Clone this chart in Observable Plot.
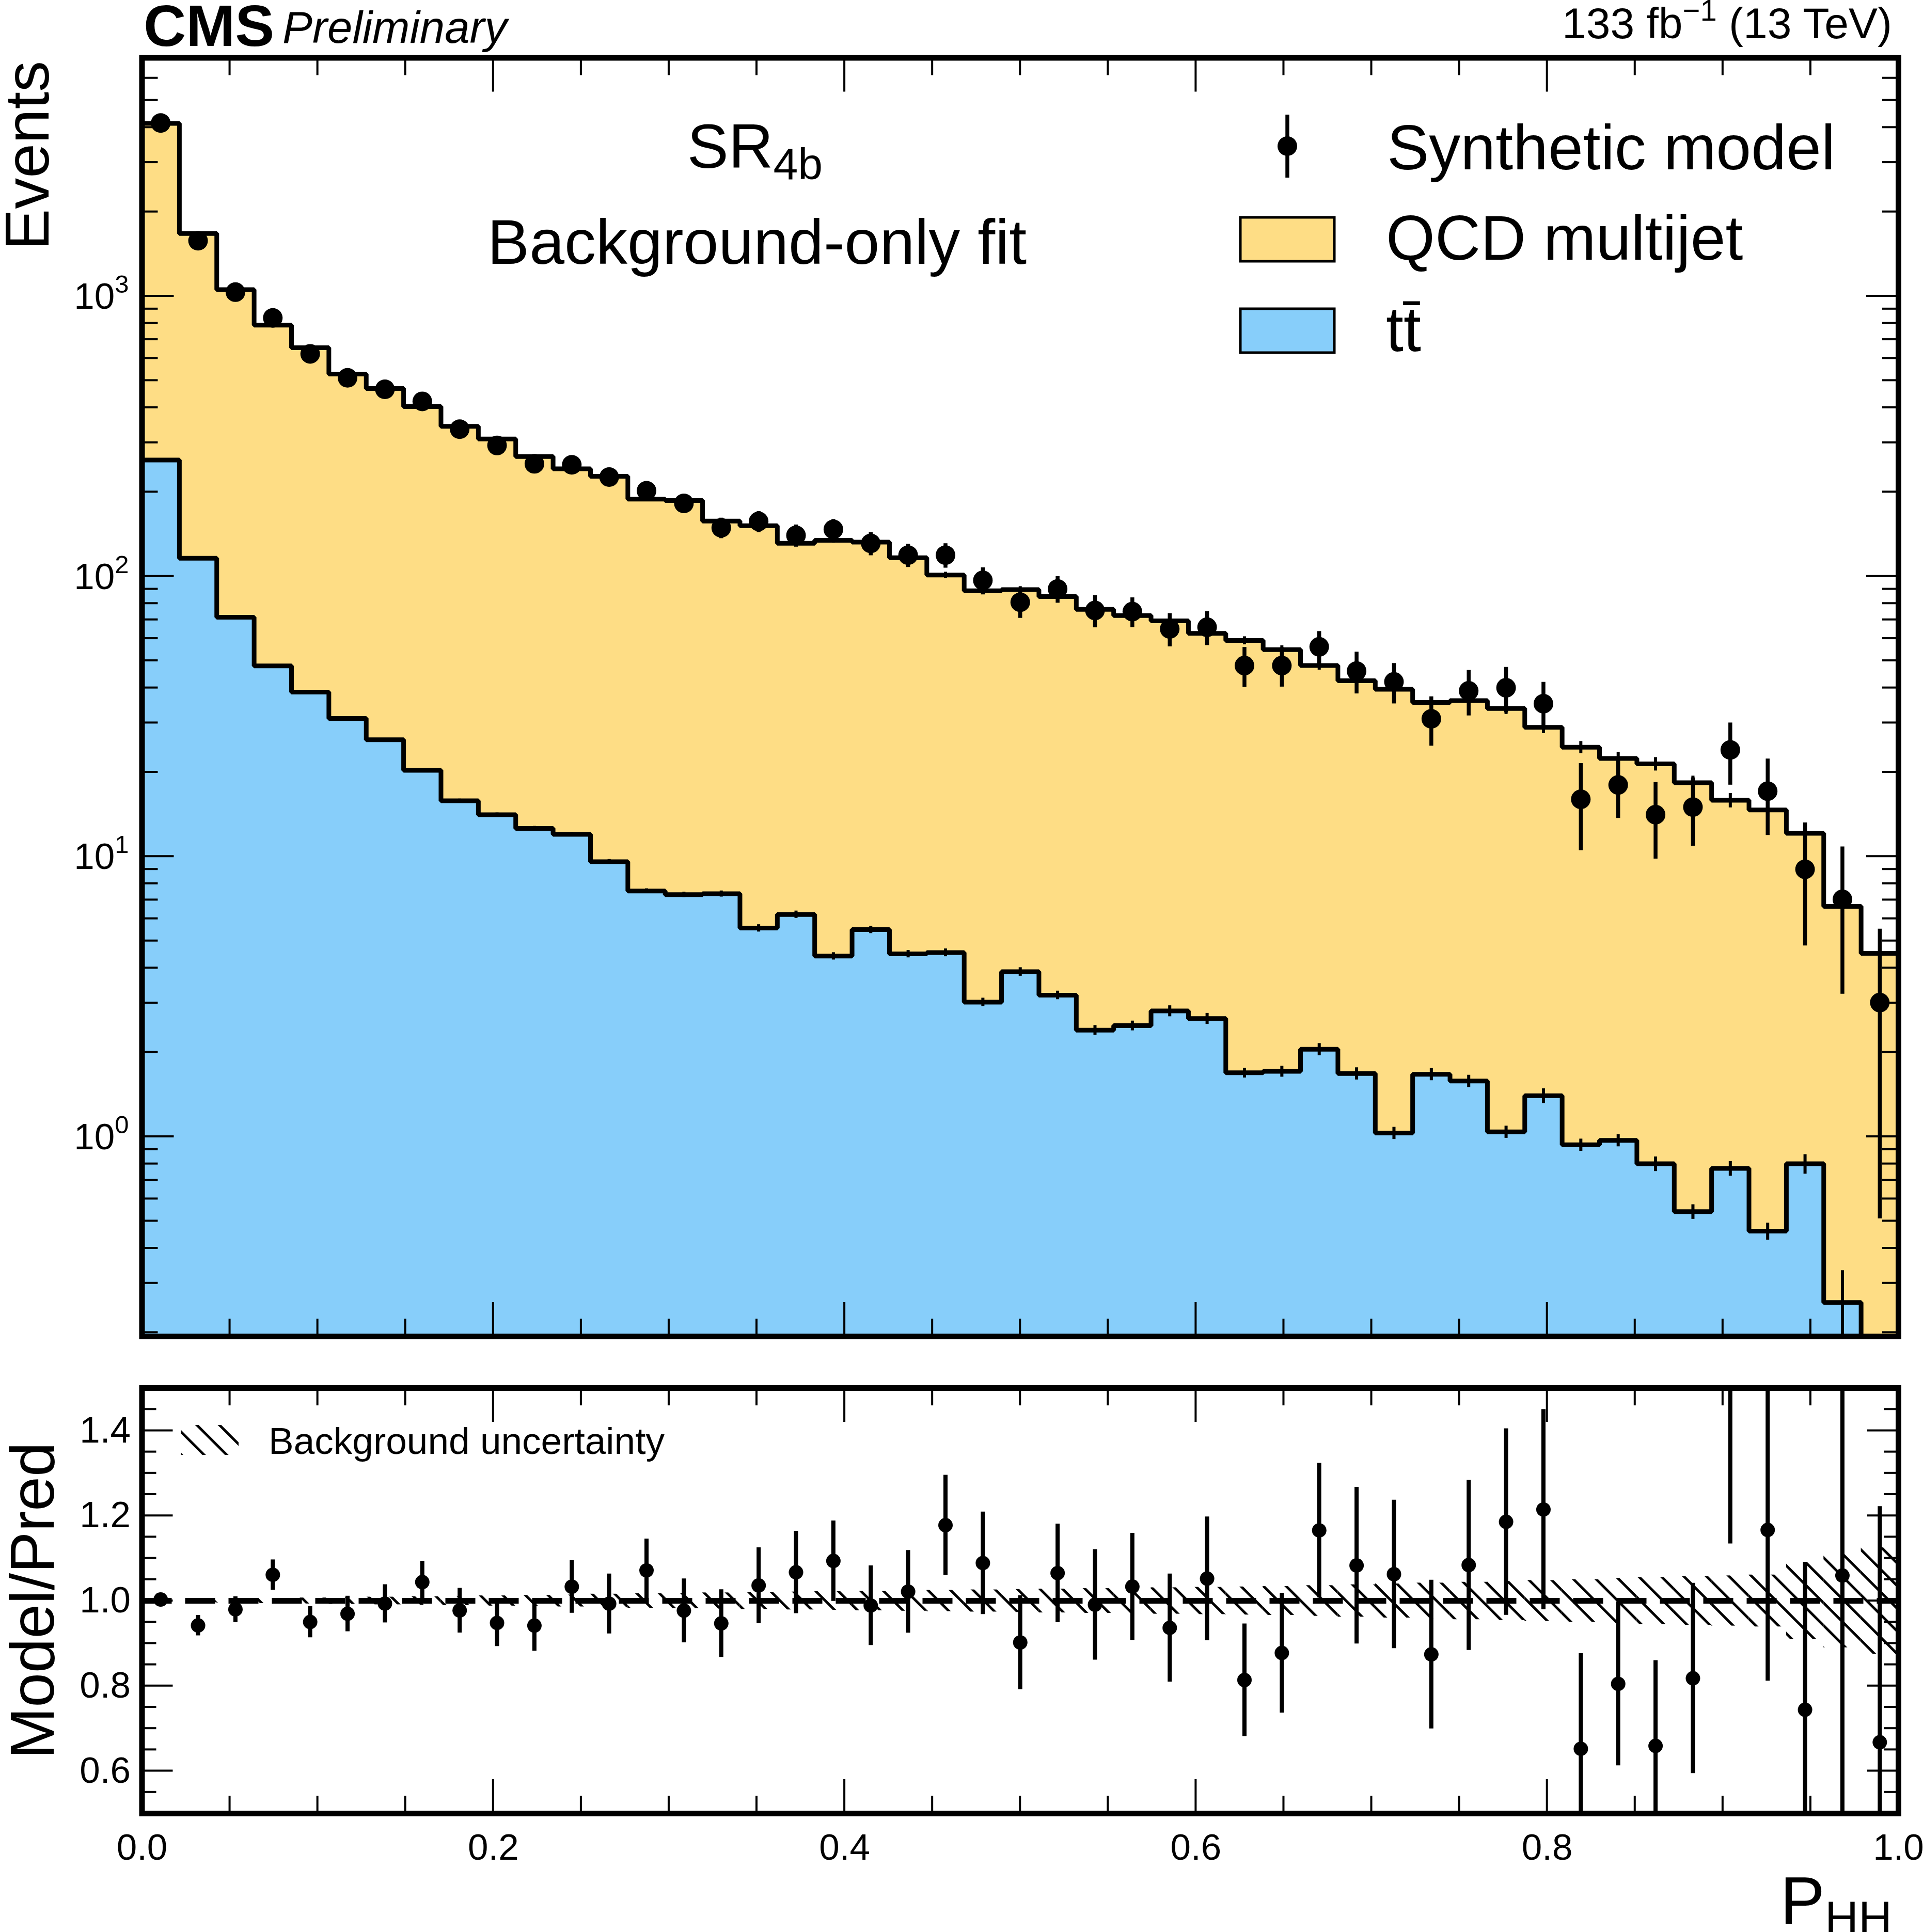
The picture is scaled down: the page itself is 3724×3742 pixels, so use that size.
<!DOCTYPE html>
<html>
<head>
<meta charset="utf-8">
<script src="https://cdn.jsdelivr.net/npm/d3@7"></script>
<script src="https://cdn.jsdelivr.net/npm/@observablehq/plot@0.6"></script>
<style>
  html, body { margin: 0; padding: 0; background: #ffffff; }
  #chart { position: relative; width: 3724px; height: 3742px; background: #ffffff;
           font-family: "Liberation Sans", Arial, sans-serif; }
  #chart svg { position: absolute; left: 0; overflow: visible; }
</style>
</head>
<body>
<div id="chart"></div>
<script>
// ---------------- DATA ----------------
const nBins = 47;                                   // equal-width bins on [0, 1]
const edges = d3.range(nBins + 1).map(i => i / nBins);

const qcd = [3876, 1557, 983, 740, 616, 496, 442, 383, 327, 295,
             255, 230, 218, 181, 179, 150, 146, 125, 130, 127,
             112, 96.5, 85.8, 85.7, 81.4, 73.8, 69.9, 66.5, 59.9, 57.3,
             53.0, 46.0, 40.7, 38.5, 33.8, 34.4, 32.7, 27.5, 23.6, 21.4,
             20.6, 17.8, 15.1, 14.2, 11.3, 6.38, 4.51];

const ttbar = [260, 116, 71.4, 47.9, 38.6, 31.1, 26.1, 20.3, 15.8, 14.1,
               12.6, 12.0, 9.58, 7.53, 7.31, 7.36, 5.55, 6.21, 4.41, 5.48,
               4.49, 4.54, 3.02, 3.88, 3.20, 2.40, 2.49, 2.81, 2.64, 1.69,
               1.71, 2.05, 1.68, 1.03, 1.67, 1.58, 1.04, 1.40, 0.935, 0.97,
               0.80, 0.54, 0.77, 0.46, 0.80, 0.256, 0];

const model = [4148, 1576, 1033, 836, 622, 511, 465, 421, 335, 293,
               252, 250, 226, 202, 182, 149, 157, 140, 147, 131,
               119, 119, 96.7, 80.8, 90.1, 75.5, 74.8, 64.9, 65.8, 48.0,
               48.0, 56.0, 45.9, 42.0, 31.0, 39.0, 40.0, 35.1, 16.0, 18.0,
               14.1, 15.0, 24.0, 17.1, 9.0, 7.03, 3.01];

const modelErr = [62, 40, 32, 28, 24, 22, 21, 20, 18, 17,
                  16, 15, 16, 14, 14, 12.5, 13.5, 12.7, 12.7, 12.4,
                  11.3, 11.9, 10.7, 9.9, 9.8, 9.9, 9.1, 8.8, 9.1, 7.8,
                  7.7, 7.6, 7.8, 6.9, 6.2, 7.2, 7.4, 6.8, 5.5, 4.3,
                  4.3, 4.1, 6.0, 5.2, 4.2, 3.8, 2.5];

// relative background uncertainty (hatched band in the ratio panel)
const bkgRelUnc = [0.003, 0.004, 0.005, 0.006, 0.007, 0.008, 0.009, 0.010, 0.011, 0.012,
                   0.013, 0.014, 0.016, 0.017, 0.018, 0.019, 0.020, 0.021, 0.022, 0.023,
                   0.024, 0.025, 0.026, 0.027, 0.028, 0.029, 0.030, 0.031, 0.032, 0.033,
                   0.034, 0.036, 0.038, 0.040, 0.042, 0.044, 0.046, 0.048, 0.050, 0.053,
                   0.055, 0.057, 0.059, 0.061, 0.090, 0.110, 0.125];

// relative uncertainty of the ttbar template
const ttRelUnc = [0.008, 0.01, 0.01, 0.012, 0.012, 0.014, 0.014, 0.015, 0.016, 0.016,
                  0.018, 0.018, 0.02, 0.02, 0.022, 0.025, 0.03, 0.03, 0.03, 0.03,
                  0.03, 0.032, 0.035, 0.035, 0.035, 0.04, 0.04, 0.045, 0.045, 0.04,
                  0.045, 0.05, 0.05, 0.05, 0.05, 0.05, 0.05, 0.06, 0.05, 0.05,
                  0.06, 0.06, 0.06, 0.07, 0.08, 0.30, 0];

const xMajor = [0, 0.2, 0.4, 0.6, 0.8, 1.0];
const yMainMajor = [1, 10, 100, 1000];
const yMainExp = ["0", "1", "2", "3"];
const yRatioMajor = [0.6, 0.8, 1.0, 1.2, 1.4];

// ---------------- STYLE ----------------
const W = 3724;
const yellow = "#fedd85";
const blue = "#87cefa";
const font = "'Liberation Sans', Arial, sans-serif";
const yMainDomain = [0.1936, 7087];
const floorVal = 0.01;

const bins = d3.range(nBins).map(i => ({
  lo: edges[i], hi: edges[i + 1], mid: (edges[i] + edges[i + 1]) / 2,
  qcd: qcd[i], tt: ttbar[i], tot: qcd[i] + ttbar[i],
  model: model[i], err: modelErr[i], unc: bkgRelUnc[i], ttUnc: ttRelUnc[i],
  ratio: model[i] / (qcd[i] + ttbar[i]),
  rErr: modelErr[i] / (qcd[i] + ttbar[i])
}));

function stepPoints(vals) {
  const pts = [];
  vals.forEach((v, i) => {
    const y = Math.max(v, floorVal);
    pts.push({x: edges[i], y, y0: floorVal}, {x: edges[i + 1], y, y0: floorVal});
  });
  return pts;
}
const totPts = stepPoints(bins.map(b => b.tot));
const ttPts = stepPoints(ttbar);

const chart = document.getElementById("chart");

// ---------------- MAIN PANEL ----------------
const mainH = 2620;
const main = Plot.plot({
  width: W, height: mainH,
  marginLeft: 274.5, marginRight: 48, marginTop: 111.5, marginBottom: mainH - 2588,
  style: {fontFamily: font, fontSize: "70px", background: "transparent", overflow: "visible"},
  x: {domain: [0, 1], axis: null},
  y: {type: "log", domain: yMainDomain, axis: null},
  marks: [
    Plot.areaY(totPts, {x: "x", y1: "y0", y2: "y", fill: yellow, clip: true}),
    Plot.areaY(ttPts, {x: "x", y1: "y0", y2: "y", fill: blue, clip: true}),
    Plot.line(totPts, {x: "x", y: "y", stroke: "black", strokeWidth: 9, strokeLinejoin: "miter", strokeLinecap: "butt", clip: true}),
    Plot.line(ttPts, {x: "x", y: "y", stroke: "black", strokeWidth: 9, strokeLinejoin: "miter", strokeLinecap: "butt", clip: true}),
    Plot.ruleX(bins, {x: "mid", y1: d => d.tot * (1 - d.unc), y2: d => d.tot * (1 + d.unc), stroke: "black", strokeWidth: 6, clip: true}),
    Plot.ruleX(bins.filter(d => d.tt > 0), {x: "mid", y1: d => d.tt * (1 - d.ttUnc), y2: d => d.tt * (1 + d.ttUnc), stroke: "black", strokeWidth: 6, clip: true}),
    Plot.ruleX(bins, {x: "mid", y1: d => d.model - d.err, y2: d => d.model + d.err, stroke: "black", strokeWidth: 7.5, clip: true}),
    Plot.dot(bins, {x: "mid", y: "model", r: 19, fill: "black", stroke: "none", clip: true}),
    Plot.frame({stroke: "black", strokeWidth: 11})
  ]
});
main.style.top = "0px";
chart.appendChild(main);

// ---------------- RATIO PANEL ----------------
const ratioTop = 2620, ratioH = 3742 - 2620;
const ratio = Plot.plot({
  width: W, height: ratioH,
  marginLeft: 274.5, marginRight: 48, marginTop: 2688 - ratioTop, marginBottom: 3742 - 3512,
  style: {fontFamily: font, fontSize: "70px", background: "transparent", overflow: "visible"},
  x: {domain: [0, 1], label: null},
  y: {domain: [0.5, 1.5], label: null},
  marks: [
    Plot.rect(bins, {x1: "lo", x2: "hi", y1: d => 1 - d.unc, y2: d => 1 + d.unc, fill: "url(#hatch)", clip: true}),
    Plot.ruleY([1], {stroke: "black", strokeWidth: 11, strokeDasharray: "58,26"}),
    Plot.ruleX(bins, {x: "mid", y1: d => d.ratio - d.rErr, y2: d => d.ratio + d.rErr, stroke: "black", strokeWidth: 8, clip: true}),
    Plot.dot(bins, {x: "mid", y: "ratio", r: 14, fill: "black", stroke: "none", clip: true}),
    Plot.axisX({ticks: xMajor, tickFormat: d3.format(".1f"), tickSize: 0, tickPadding: 39, fontSize: 71, label: null}),
    Plot.axisY({ticks: yRatioMajor, tickFormat: d3.format(".1f"), tickSize: 0, tickPadding: 22, fontSize: 71, label: null}),
    Plot.frame({stroke: "black", strokeWidth: 11})
  ]
});
ratio.style.top = ratioTop + "px";
chart.appendChild(ratio);

// hatch pattern
{
  const defs = d3.select(ratio).insert("defs", ":first-child");
  const pat = defs.append("pattern").attr("id", "hatch")
    .attr("patternUnits", "userSpaceOnUse").attr("width", 31).attr("height", 31)
    .attr("patternTransform", "rotate(-45)");
  pat.append("line").attr("x1", 15.5).attr("y1", -2).attr("x2", 15.5).attr("y2", 33)
    .attr("stroke", "black").attr("stroke-width", 5);
}

// ---------------- TICKS (inward, all four sides) ----------------
function scaleFn(plot, name) {
  const s = plot.scale(name);
  if (s.apply) return v => s.apply(v);
  const sc = s.type === "log" ? d3.scaleLog(s.domain, s.range) : d3.scaleLinear(s.domain, s.range);
  return sc;
}
function addTicks(plot, xTicks, yTicks) {
  const sx = scaleFn(plot, "x"), sy = scaleFn(plot, "y");
  const xr = plot.scale("x").range, yr = plot.scale("y").range;
  const x0 = Math.min(...xr), x1 = Math.max(...xr);
  const yTop = Math.min(...yr), yBot = Math.max(...yr);
  const g = d3.select(plot).append("g").attr("stroke", "black").attr("stroke-width", 4);
  xTicks.forEach(([v, L]) => {
    const px = sx(v);
    g.append("line").attr("x1", px).attr("x2", px).attr("y1", yBot).attr("y2", yBot - L);
    g.append("line").attr("x1", px).attr("x2", px).attr("y1", yTop).attr("y2", yTop + L);
  });
  yTicks.forEach(([v, L]) => {
    const py = sy(v);
    g.append("line").attr("y1", py).attr("y2", py).attr("x1", x0).attr("x2", x0 + L);
    g.append("line").attr("y1", py).attr("y2", py).attr("x1", x1).attr("x2", x1 - L);
  });
  return {sx, sy, x0, x1, yTop, yBot};
}
const xTickList = d3.range(1, 20).map(i => [i / 20, i % 4 === 0 ? 66 : 34]);
const yMainTicks = [];
[0.1, 1, 10, 100, 1000].forEach(dec => {
  for (let k = 1; k <= 9; k++) {
    const v = k * dec;
    if (v > yMainDomain[0] && v < yMainDomain[1]) yMainTicks.push([v, k === 1 ? 62 : 31]);
  }
});
const mainInfo = addTicks(main, xTickList, yMainTicks);
const yRatioTicks = d3.range(11, 30).map(i => [i / 20, i % 4 === 0 ? 60 : 28]);
addTicks(ratio, xTickList, yRatioTicks);

// main y tick labels with superscripts
{
  const g = d3.select(main).append("g").attr("font-family", font).attr("fill", "black");
  yMainMajor.forEach((v, i) => {
    const t = g.append("text").attr("x", mainInfo.x0 - 25).attr("y", mainInfo.sy(v) + 25)
      .attr("text-anchor", "end").attr("font-size", 71);
    t.append("tspan").text("10");
    t.append("tspan").attr("font-size", 49).attr("dy", -31).text(yMainExp[i]);
  });
}

// ---------------- TEXT ----------------
{
  const s = d3.select(main).append("g").attr("font-family", font).attr("fill", "black").attr("text-anchor", "start");
  s.append("text").attr("x", 278).attr("y", 89).attr("text-anchor", "start").attr("font-size", 114).attr("font-weight", "bold").text("CMS");
  s.append("text").attr("x", 547).attr("y", 83).attr("text-anchor", "start").attr("font-size", 87).attr("font-style", "italic").text("Preliminary");
  const lumi = s.append("text").attr("x", 3664).attr("y", 74).attr("font-size", 84).attr("text-anchor", "end");
  lumi.append("tspan").text("133 fb");
  lumi.append("tspan").attr("font-size", 58).attr("dy", -34).text("\u22121");
  lumi.append("tspan").attr("dy", 34).text(" (13 TeV)");
  s.append("text").attr("transform", "translate(94,118) rotate(-90)").attr("text-anchor", "end")
    .attr("font-size", 120).text("Events");

  const sr = s.append("text").attr("x", 1462).attr("y", 325).attr("text-anchor", "middle").attr("font-size", 120);
  sr.append("tspan").text("SR");
  sr.append("tspan").attr("font-size", 86).attr("dy", 22).text("4b");
  s.append("text").attr("x", 1466).attr("y", 511).attr("text-anchor", "middle").attr("font-size", 122)
    .text("Background-only fit");

  // legend
  s.append("line").attr("x1", 2493).attr("x2", 2493).attr("y1", 222).attr("y2", 344)
    .attr("stroke", "black").attr("stroke-width", 7.5);
  s.append("circle").attr("cx", 2493).attr("cy", 283).attr("r", 19).attr("fill", "black");
  s.append("text").attr("x", 2686).attr("y", 328).attr("text-anchor", "start").attr("font-size", 122).text("Synthetic model");
  s.append("rect").attr("x", 2402).attr("y", 421).attr("width", 182).attr("height", 85)
    .attr("fill", yellow).attr("stroke", "black").attr("stroke-width", 5);
  s.append("text").attr("x", 2684).attr("y", 503).attr("text-anchor", "start").attr("font-size", 122).text("QCD multijet");
  s.append("rect").attr("x", 2402).attr("y", 598).attr("width", 182).attr("height", 85)
    .attr("fill", blue).attr("stroke", "black").attr("stroke-width", 5);
  s.append("text").attr("x", 2684).attr("y", 680).attr("text-anchor", "start").attr("font-size", 122).text("tt\u0304");
}
{
  const s = d3.select(ratio).append("g").attr("font-family", font).attr("fill", "black").attr("text-anchor", "start");
  s.append("text").attr("transform", `translate(104,${3100 - ratioTop}) rotate(-90)`).attr("text-anchor", "middle")
    .attr("font-size", 120).text("Model/Pred");
  s.append("rect").attr("x", 350).attr("y", 2760 - ratioTop).attr("width", 112).attr("height", 58)
    .attr("fill", "url(#hatch)");
  s.append("text").attr("x", 520).attr("y", 2816 - ratioTop).attr("text-anchor", "start").attr("font-size", 73).text("Background uncertainty");
  const ph = s.append("text").attr("x", 3664).attr("y", 3726 - ratioTop).attr("text-anchor", "end").attr("font-size", 130);
  ph.append("tspan").text("P");
  ph.append("tspan").attr("font-size", 90).attr("dy", 20).text("HH");
}
</script>
</body>
</html>
